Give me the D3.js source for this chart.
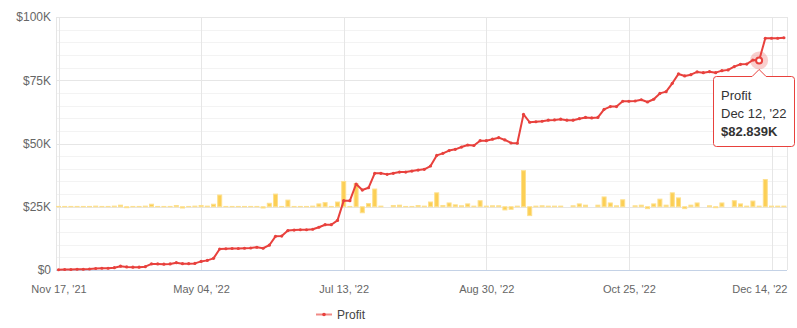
<!DOCTYPE html>
<html lang="en">
<head>
<meta charset="utf-8">
<title>Profit chart</title>
<script type="text/javascript" src="https://d3js.org/d3.v7.min.js"></script>
<style type="text/css">
  body { margin: 0; background: #fff; }
  text { font-family: "Liberation Sans", Arial, sans-serif; }
</style>
</head>
<body>
<script type="text/javascript">

// profit (in $K), one value per trading day
var profit = [0.1, 0.2, 0.2, 0.3, 0.3, 0.4, 0.6, 0.7, 0.7, 0.9,
  1.5, 1.2, 1.1, 1.1, 1.3, 2.4, 2.4, 2.3, 2.4, 2.9,
  2.5, 2.5, 2.6, 3.4, 3.8, 4.6, 8.3, 8.4, 8.5, 8.5,
  8.6, 8.7, 9.0, 8.6, 9.8, 13.3, 13.4, 15.6, 15.8, 15.9,
  15.9, 16.1, 16.9, 17.9, 17.9, 19.6, 27.4, 27.4, 34.0, 31.6,
  32.5, 38.2, 38.2, 37.8, 38.2, 38.7, 38.7, 39.1, 39.5, 39.8,
  41.1, 45.3, 46.1, 47.2, 47.7, 48.6, 49.4, 49.2, 51.1, 51.1,
  51.7, 52.3, 51.4, 50.2, 50.1, 61.5, 58.4, 58.6, 58.8, 59.2,
  59.3, 59.6, 59.2, 59.2, 59.8, 60.3, 60.1, 60.3, 63.5, 64.6,
  64.6, 66.7, 66.7, 66.8, 67.3, 66.4, 67.5, 69.8, 70.5, 73.8,
  77.5, 76.7, 77.2, 78.3, 78.0, 78.4, 78.0, 78.8, 79.1, 80.4,
  81.3, 81.4, 83.0, 82.839, 91.6, 91.6, 91.6, 91.8];

// daily change bars (in $K), drawn on a hidden second axis
var daily = [0.1, 0.1, 0.1, 0.1, 0.1, 0.1, 0.2, 0.1, 0.1, 0.2,
  0.5, -0.3, 0.1, 0.1, 0.2, 0.8, 0.1, 0.1, 0.1, 0.4,
  -0.4, 0.1, 0.2, 0.4, 0.2, 0.8, 3.7, 0.1, 0.1, 0.1,
  0.1, 0.1, 0.1, -0.4, 1.1, 4.0, 0.1, 2.1, 0.1, 0.1,
  0.1, 0.2, 0.9, 1.3, 0.1, 1.5, 8.0, 0.1, 7.3, -1.9,
  1.0, 5.6, 0.2, 0, 0.4, 0.5, 0.1, 0.1, 0.4, 0.2,
  1.5, 4.4, 0.4, 1.2, 0.6, 0.3, 0.9, 0.2, 1.9, 0.2,
  0.3, 0.3, -1.0, -0.8, 0.2, 11.4, -2.8, 0.2, 0.3, 0.2,
  0.2, 0.2, 0, 0.3, 0.9, 0.5, 0, 0.5, 3.1, 1.2,
  0.3, 2.2, 0, 0.3, 0.5, -0.6, 0.9, 2.4, 0.5, 4.4,
  2.8, -0.6, 0.5, 1.2, 0, 0.3, -0.3, 1.2, 0, 1.9,
  0.9, 0.2, 1.8, 0.2, 8.6, 0.2, 0.2, 0.2];

// x tick labels, keyed by day index
var tickIdx = [0, 23, 46, 69, 92, 115];
var tickLabels = ["Nov 17, '21", "May 04, '22", "Jul 13, '22", "Aug 30, '22", "Oct 25, '22", "Dec 14, '22"];
var yTicks = [0, 25, 50, 75, 100];

// tooltip point
var tipIdx = 113;
var tipDate = "Dec 12, '22";

var w = 797;
var h = 328;
var plotL = 56, plotR = 787, plotT = 17, plotB = 270;

var svg = d3.select("body")
  .append("svg")
  .attr("width", w)
  .attr("height", h);

var x = d3.scalePoint()
  .domain(d3.range(profit.length))
  .range([58.5, 783.9]);

var y = d3.scaleLinear()
  .domain([0, 100])
  .range([plotB, plotT]);

var yBar = d3.scaleLinear()
  .domain([-20, 60])
  .range([plotB, plotT]);

// minor grid
svg.append("g")
  .selectAll("line")
  .data(d3.range(0, 101, 5).filter(function(d){ return d % 25 != 0; }))
  .enter()
  .append("line")
  .attr("x1", plotL).attr("x2", plotR)
  .attr("y1", function(d){ return Math.round(y(d)) + 0.5; })
  .attr("y2", function(d){ return Math.round(y(d)) + 0.5; })
  .attr("stroke", "#f3f3f3");

// major grid
svg.append("g")
  .selectAll("line")
  .data(yTicks.slice(1))
  .enter()
  .append("line")
  .attr("x1", plotL).attr("x2", plotR)
  .attr("y1", function(d){ return Math.round(y(d)) + 0.5; })
  .attr("y2", function(d){ return Math.round(y(d)) + 0.5; })
  .attr("stroke", "#e6e6e6");

// vertical grid
svg.append("g")
  .selectAll("line")
  .data(tickIdx)
  .enter()
  .append("line")
  .attr("x1", function(d){ return Math.round(x(d)) + 0.5; })
  .attr("x2", function(d){ return Math.round(x(d)) + 0.5; })
  .attr("y1", plotT).attr("y2", plotB)
  .attr("stroke", "#e6e6e6");

// plot border left / right
svg.append("line")
  .attr("x1", plotL + 0.5).attr("x2", plotL + 0.5)
  .attr("y1", plotT).attr("y2", plotB)
  .attr("stroke", "#e6e6e6");
svg.append("line")
  .attr("x1", plotR + 0.5).attr("x2", plotR + 0.5)
  .attr("y1", plotT).attr("y2", plotB)
  .attr("stroke", "#e6e6e6");

// bars
svg.append("g")
  .selectAll("rect")
  .data(daily.map(function(d, i){ return {i: i, v: d}; }).filter(function(d){ return d.v != 0; }))
  .enter()
  .append("rect")
  .attr("x", function(d){ return x(d.i) - 2; })
  .attr("width", 4)
  .attr("y", function(d){ return Math.min(yBar(d.v), yBar(0)); })
  .attr("height", function(d){ return Math.abs(yBar(d.v) - yBar(0)); })
  .attr("fill", "#fccf55")
  .attr("stroke", "#fde08e")
  .attr("stroke-width", 1);

// x axis line
svg.append("line")
  .attr("x1", plotL).attr("x2", plotR)
  .attr("y1", plotB + 0.5).attr("y2", plotB + 0.5)
  .attr("stroke", "#c4d2e6");

// y axis
var yAxis = svg.append("g")
  .attr("transform", "translate(51,0)")
  .call(d3.axisLeft(y)
    .tickValues(yTicks)
    .tickSize(0)
    .tickPadding(0)
    .tickFormat(function(d){ return d == 0 ? "$0" : "$" + d + "K"; }));
yAxis.select(".domain").remove();
yAxis.selectAll("text")
  .attr("fill", "#666")
  .style("font-size", "12px");

// x axis
var xAxis = svg.append("g")
  .attr("transform", "translate(0," + plotB + ")")
  .call(d3.axisBottom(x)
    .tickValues(tickIdx)
    .tickSize(0)
    .tickPadding(15)
    .tickFormat(function(d){ return tickLabels[tickIdx.indexOf(d)]; }));
xAxis.select(".domain").remove();
xAxis.selectAll("text")
  .attr("fill", "#666")
  .style("font-size", "11px");
// last label is pulled inside the plot edge
xAxis.selectAll(".tick")
  .filter(function(d){ return d == tickIdx[tickIdx.length - 1]; })
  .select("text")
  .attr("text-anchor", "end")
  .attr("x", plotR - x(tickIdx[tickIdx.length - 1]));

// profit line
var line = d3.line()
  .x(function(d, i){ return x(i); })
  .y(function(d){ return y(d); });

svg.append("path")
  .datum(profit)
  .attr("d", line)
  .attr("fill", "none")
  .attr("stroke", "#e8413d")
  .attr("stroke-width", 2)
  .attr("stroke-linejoin", "round");

svg.append("g")
  .selectAll("circle")
  .data(profit)
  .enter()
  .append("circle")
  .attr("cx", function(d, i){ return x(i); })
  .attr("cy", function(d){ return y(d); })
  .attr("r", 1.6)
  .attr("fill", "#e8413d");

// hovered point
var tx = x(tipIdx), ty = y(profit[tipIdx]);
svg.append("circle")
  .attr("cx", tx).attr("cy", ty)
  .attr("r", 9)
  .attr("fill", "#e8413d")
  .attr("fill-opacity", 0.25);
svg.append("circle")
  .attr("cx", tx).attr("cy", ty)
  .attr("r", 3)
  .attr("fill", "#fff")
  .attr("stroke", "#e8413d")
  .attr("stroke-width", 2);

// tooltip box
var bx = 713.5, by = 76.5, bw = 81, bh = 70, r = 3;
var tipPath = "M" + (bx + r) + "," + by +
  " L" + (tx - 7) + "," + by +
  " L" + tx + "," + (by - 7) +
  " L" + (tx + 7) + "," + by +
  " L" + (bx + bw - r) + "," + by +
  " Q" + (bx + bw) + "," + by + " " + (bx + bw) + "," + (by + r) +
  " L" + (bx + bw) + "," + (by + bh - r) +
  " Q" + (bx + bw) + "," + (by + bh) + " " + (bx + bw - r) + "," + (by + bh) +
  " L" + (bx + r) + "," + (by + bh) +
  " Q" + bx + "," + (by + bh) + " " + bx + "," + (by + bh - r) +
  " L" + bx + "," + (by + r) +
  " Q" + bx + "," + by + " " + (bx + r) + "," + by + " Z";
svg.append("path")
  .attr("d", tipPath)
  .attr("fill", "#fff")
  .attr("stroke", "#e8413d")
  .attr("stroke-width", 1);

var tipText = svg.append("g")
  .attr("fill", "#333")
  .style("font-size", "13px");
tipText.append("text").attr("x", 721).attr("y", 100).text("Profit");
tipText.append("text").attr("x", 721).attr("y", 118).text(tipDate);
tipText.append("text").attr("x", 721).attr("y", 136)
  .style("font-weight", "bold")
  .text("$" + d3.format(".3f")(profit[tipIdx]) + "K");

// legend
svg.append("line")
  .attr("x1", 316).attr("x2", 332)
  .attr("y1", 314.5).attr("y2", 314.5)
  .attr("stroke", "#f08a86")
  .attr("stroke-width", 2);
svg.append("circle")
  .attr("cx", 324).attr("cy", 314.5)
  .attr("r", 1.8)
  .attr("fill", "#e8413d");
svg.append("text")
  .attr("x", 337).attr("y", 319)
  .attr("fill", "#444")
  .style("font-size", "12px")
  .text("Profit");

</script>
</body>
</html>
